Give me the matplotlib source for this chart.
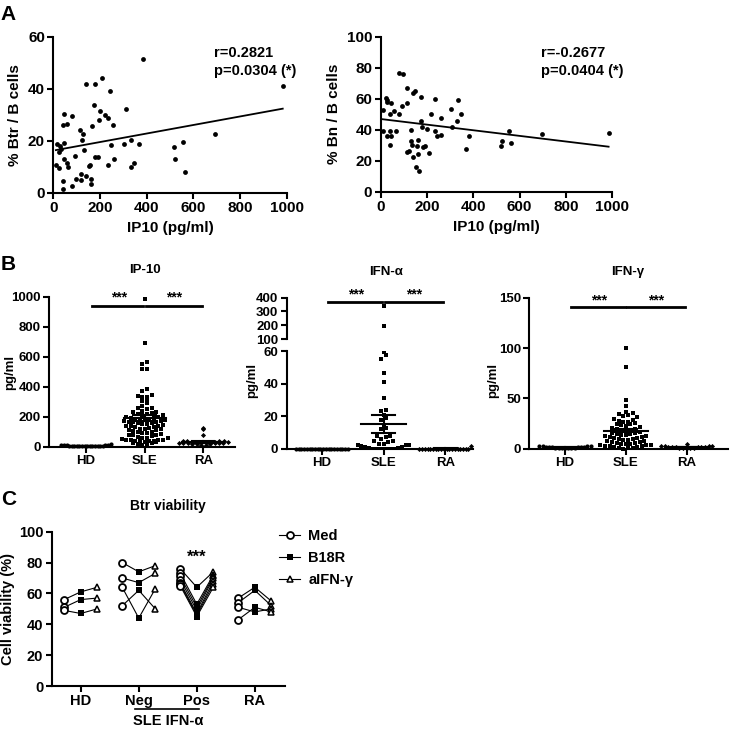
import numpy as np
import matplotlib
matplotlib.use("Agg")
import matplotlib.pyplot as plt
from matplotlib.lines import Line2D

# ---------------- data ----------------
# panel A, left: IP10 (pg/ml) vs % Btr / B cells
btr_ip10 = [383, 983, 209, 140, 180, 241, 174, 310, 200, 46, 80, 220, 234, 197, 40, 60, 166, 257,
            114, 129, 121, 131, 331, 304, 369, 249, 14, 46, 29, 31, 24, 94, 46, 260, 180, 191, 60,
            156, 153, 234, 64, 11, 26, 333, 347, 40, 97, 117, 140, 120, 163, 163, 80, 40, 517, 554,
            521, 564, 691]
btr_pct = [51.3, 41.2, 44.1, 41.8, 41.8, 39.1, 33.7, 32.3, 31.3, 30.3, 29.6, 29.7, 28.8, 27.8, 26.0,
           26.4, 25.8, 25.9, 24.1, 22.4, 20.3, 16.4, 20.3, 18.7, 18.8, 18.2, 18.8, 19.1, 17.9, 16.8,
           15.8, 14.1, 12.9, 12.8, 13.6, 13.6, 11.5, 10.8, 10.3, 10.5, 9.7, 10.8, 9.5, 9.7, 11.5,
           4.6, 5.4, 7.2, 6.4, 4.9, 5.4, 3.3, 2.7, 1.3, 17.7, 19.4, 12.9, 8.1, 22.6]
btr_fit = (0.0164, 16.2)  # slope, intercept of drawn regression line
btr_stats = ["r=0.2821", "p=0.0304 (*)"]

# panel A, right: IP10 (pg/ml) vs % Bn / B cells
bn_ip10 = [78, 95, 115, 150, 140, 173, 23, 29, 43, 26, 233, 334, 112, 92, 9, 58, 40, 78, 219, 348,
           302, 259, 173, 331, 178, 199, 308, 12, 40, 66, 129, 233, 29, 43, 245, 259, 383, 552, 129,
           137, 161, 158, 184, 193, 40, 115, 121, 161, 210, 141, 368, 518, 524, 564, 153, 164, 695,
           984]
bn_pct = [76.3, 75.9, 66.7, 64.7, 63.4, 61.3, 60.2, 59.1, 57.4, 58.1, 59.6, 58.9, 57.0, 55.3, 52.5,
          51.8, 50.3, 49.9, 50.1, 50.3, 53.5, 47.7, 45.8, 45.8, 41.7, 40.2, 41.7, 38.9, 38.9, 39.4,
          39.8, 38.9, 35.9, 35.9, 35.9, 36.8, 35.9, 39.1, 32.5, 30.3, 33.3, 29.5, 29.0, 29.5, 29.9,
          25.6, 26.0, 24.3, 24.7, 22.2, 27.3, 29.2, 32.5, 31.6, 16.1, 13.1, 37.2, 37.6]
bn_fit = (-0.01815, 46.9)
bn_stats = ["r=-0.2677", "p=0.0404 (*)"]

# panel B: cytokines in HD, SLE, RA
groups_b = ["HD", "SLE", "RA"]
ip10_hd = [2, 3, 3, 4, 4, 5, 5, 5, 6, 6, 7, 7, 8, 8, 9, 10, 10, 12, 14, 18]
ip10_sle = [983, 693, 564, 554, 521, 517, 383, 369, 347, 340, 333, 331, 310, 304, 290, 270, 260,
            257, 249, 241, 234, 234, 225, 220, 215, 210, 209, 200, 197, 193, 191, 188, 185, 180,
            180, 175, 174, 170, 166, 163, 163, 160, 156, 153, 150, 145, 140, 140, 135, 131, 129,
            125, 121, 120, 117, 114, 110, 105, 100, 97, 94, 90, 85, 80, 80, 75, 70, 64, 60, 60,
            55, 50, 46, 46, 46, 42, 40, 40, 38, 35, 31, 29, 26, 24, 20, 14, 11]
ip10_ra = [125, 115, 75, 40, 38, 36, 35, 34, 33, 32, 31, 30, 30, 29, 28, 27, 26, 25, 24, 22, 20,
           18, 15, 12, 10]
ip10_mean = [7, 190, 32]
ip10_sem = [1, 20, 6]

ifna_hd = [0] * 20
ifna_sle = [340, 195, 59.6, 57.3, 55.3, 46.3, 41.2, 31.1, 23.8, 22.9, 20.5, 19, 17.5, 14, 13, 12,
            8, 7.5, 7, 6, 5, 4.5, 4, 3, 3, 2.5, 2, 2, 1.5, 1, 1, 0.5, 0.5, 0, 0, 0, 0, 0, 0, 0]
ifna_ra = [0] * 19 + [1.5]
ifna_mean = [0, 15, 0.1]
ifna_sem = [0, 5.5, 0.1]

ifng_hd = [0.2, 0.4, 0.5, 0.6, 0.8, 1, 1, 1.2, 1.4, 1.5, 1.6, 1.8, 2, 2.2, 2.5, 2.8, 3]
ifng_sle = [100, 81, 48.5, 42, 36, 35, 34, 33, 32, 31, 30, 29, 28, 27, 27, 26, 25, 25, 24, 23, 22,
            21, 20, 20, 19, 18, 18, 17, 16, 16, 15, 15, 14, 14, 13, 13, 12, 12, 11, 11, 10, 10, 9,
            9, 8, 8, 7, 7, 6, 6, 5, 5, 5, 4, 4, 4, 3, 3, 3, 2, 2, 1, 1, 0.5, 0]
ifng_ra = [0.3, 0.5, 0.8, 1, 1, 1.2, 1.4, 1.5, 1.7, 2, 2, 2.2, 2.5, 2.8, 3, 4.5]
ifng_mean = [1.2, 18, 1.8]
ifng_sem = [0.2, 1.6, 0.3]

# panel C: Btr viability per donor (Med, B18R, aIFN-g)
groups_c = ["HD", "Neg", "Pos", "RA"]
conds = ["Med", "B18R", "aIFN-\u03b3"]
via_hd = [[56, 61, 64], [51, 56, 57], [49, 47, 50]]
via_neg = [[80, 74, 78], [70, 67, 73], [64, 44, 63], [52, 62, 50]]
via_pos = [[76, 64, 74], [73, 53, 72], [71, 51, 71], [69, 49, 70], [67, 47, 68], [66, 46, 66],
           [65, 45, 64]]
via_ra = [[57, 64, 55], [54, 62, 52], [51, 48, 50], [43, 51, 48]]

# ---------------- style ----------------
plt.rcParams["font.family"] = ["Liberation Sans", "DejaVu Sans"]
plt.rcParams["font.weight"] = "bold"
plt.rcParams["axes.linewidth"] = 1.5
plt.rcParams["xtick.major.width"] = 1.5
plt.rcParams["ytick.major.width"] = 1.5
plt.rcParams["xtick.major.size"] = 4
plt.rcParams["ytick.major.size"] = 4

W = 730.0


def box(x0, y0, x1, y1):
    # pixel box (top-left origin) -> figure rect
    return [x0 / W, 1 - y1 / W, (x1 - x0) / W, (y1 - y0) / W]


def clean(ax, fs):
    ax.spines["top"].set_visible(False)
    ax.spines["right"].set_visible(False)
    ax.tick_params(labelsize=fs, pad=2)
    for t in ax.get_xticklabels() + ax.get_yticklabels():
        t.set_fontweight("bold")


def swarm_offsets(vals, y_ppu, x_ppu, bin_px=4.5, step_px=4.6, max_half=0.42):
    vals = np.asarray(vals, float)
    xs = np.zeros(len(vals))
    keys = np.floor(vals * y_ppu / bin_px)
    for k in np.unique(keys):
        idx = np.where(keys == k)[0]
        idx = idx[np.argsort(vals[idx])]
        n = len(idx)
        step = step_px / x_ppu
        if n > 1:
            step = min(step, 2 * max_half / (n - 1))
        pos = (np.arange(n) - (n - 1) / 2) * step
        order = np.argsort(np.abs(pos), kind="stable")
        xs[idx] = pos[order]
    return xs


fig = plt.figure(figsize=(7.3, 7.3), dpi=100)

# ---------------- panel A ----------------
for rect, xs, ys, fit, stats, ylab, ymax, txt_x in [
        (box(53.3, 36.7, 286.7, 192.7), btr_ip10, btr_pct, btr_fit, btr_stats, "% Btr / B cells", 60, 214),
        (box(380.7, 36.7, 612.3, 191.7), bn_ip10, bn_pct, bn_fit, bn_stats, "% Bn / B cells", 100, 541)]:
    ax = fig.add_axes(rect)
    ax.scatter(xs, ys, s=12, color="black", zorder=3, clip_on=False, linewidths=0)
    xf = np.array([min(xs), max(xs)])
    ax.plot(xf, fit[0] * xf + fit[1], color="black", lw=1.3)
    ax.set_xlim(0, 1000)
    ax.set_ylim(0, ymax)
    ax.set_xticks(range(0, 1001, 200))
    ax.set_yticks(range(0, ymax + 1, 20 if ymax == 100 else 20))
    clean(ax, 11)
    ax.set_xlabel("IP10 (pg/ml)", fontsize=11, fontweight="bold", labelpad=4)
    ax.set_ylabel(ylab, fontsize=11, fontweight="bold", labelpad=4)
    fig.text(txt_x / W, 1 - 52.7 / W, stats[0], fontsize=10.5, fontweight="bold", va="center")
    fig.text(txt_x / W, 1 - 70.5 / W, stats[1], fontsize=10.5, fontweight="bold", va="center")

fig.text(8.5 / W, 1 - 14 / W, "A", fontsize=15, fontweight="bold", ha="center", va="center")
fig.text(8.5 / W, 1 - 264.5 / W, "B", fontsize=15, fontweight="bold", ha="center", va="center")
fig.text(8.5 / W, 1 - 499.5 / W, "C", fontsize=15, fontweight="bold", ha="center", va="center")


def cyto_points(ax, data, means, sems, y_ppu, x_ppu, markers, sizes):
    for i, vals in enumerate(data):
        off = swarm_offsets(vals, y_ppu, x_ppu)
        ax.plot(i + off, vals, linestyle="none", marker=markers[i], ms=sizes[i],
                color="black", mew=0, zorder=3, clip_on=False)
        ax.plot([i - 0.36, i + 0.36], [means[i], means[i]], color="black", lw=1.5, zorder=4)
        ax.plot([i, i], [means[i] - sems[i], means[i] + sems[i]], color="black", lw=1.5, zorder=4)
        for v in (means[i] - sems[i], means[i] + sems[i]):
            ax.plot([i - 0.19, i + 0.19], [v, v], color="black", lw=1.5, zorder=4)


def sig_bars(ax, y, ystar):
    for a, b, c in [(0.1, 0.98, 0.56), (1.02, 1.97, 1.5)]:
        ax.plot([a, b], [y, y], color="black", lw=2, clip_on=False, zorder=5)
        ax.text(c, ystar, "***", ha="center", va="center", fontsize=10, fontweight="bold",
                clip_on=False)


markers_b = ["o", "s", "D"]
sizes_b = [3, 3.4, 2.6]

# IP-10
ax = fig.add_axes(box(49.3, 296.7, 235, 446.7))
ax.set_xlim(-0.625, 2.54)
ax.set_ylim(0, 1000)
y_ppu = 150 / 1000
x_ppu = (235 - 49.3) / (2.54 + 0.625)
cyto_points(ax, [ip10_hd, ip10_sle, ip10_ra], ip10_mean, ip10_sem, y_ppu, x_ppu, markers_b, sizes_b)
sig_bars(ax, 940, 995)
ax.set_xticks(range(3))
ax.set_xticklabels(groups_b)
ax.set_yticks(range(0, 1001, 200))
clean(ax, 9.5)
fig.text(145 / W, 1 - 270 / W, "IP-10", fontsize=9.5, fontweight="bold", ha="center", va="center")
fig.text(10 / W, 1 - 372 / W, "pg/ml", fontsize=9.5, fontweight="bold", rotation=90,
         ha="center", va="center")

# IFN-alpha with broken axis
lo = fig.add_axes(box(286.7, 351, 473, 448.7))
hi = fig.add_axes(box(286.7, 297.7, 473, 339))
for a in (lo, hi):
    a.set_xlim(-0.57, 2.45)
lo.set_ylim(0, 60)
hi.set_ylim(100, 400)
y_ppu = 97.7 / 60
x_ppu = (473 - 286.7) / (2.45 + 0.57)
for a in (lo, hi):
    cyto_points(a, [ifna_hd, ifna_sle, ifna_ra], ifna_mean, ifna_sem, y_ppu, x_ppu, markers_b, sizes_b)
for coll in hi.lines:
    coll.set_clip_on(True)
for coll in lo.lines:
    if max(coll.get_ydata()) > 60:
        coll.set_clip_on(True)
sig_bars(hi, 368, 425)
lo.set_xticks(range(3))
lo.set_xticklabels(groups_b)
lo.set_yticks([0, 20, 40, 60])
hi.set_yticks([100, 200, 300, 400])
hi.set_xticks([])
hi.spines["bottom"].set_visible(False)
clean(lo, 9.5)
clean(hi, 9.5)
fig.text(386 / W, 1 - 271.7 / W, "IFN-\u03b1", fontsize=9.5, fontweight="bold", ha="center", va="center")
fig.text(252 / W, 1 - 380 / W, "pg/ml", fontsize=9.5, fontweight="bold", rotation=90,
         ha="center", va="center")

# IFN-gamma
ax = fig.add_axes(box(529.3, 297.7, 728, 448.7))
ax.set_xlim(-0.586, 2.68)
ax.set_ylim(0, 150)
y_ppu = 151 / 150
x_ppu = (728 - 529.3) / (2.68 + 0.586)
cyto_points(ax, [ifng_hd, ifng_sle, ifng_ra], ifng_mean, ifng_sem, y_ppu, x_ppu, markers_b, sizes_b)
sig_bars(ax, 140.4, 147)
ax.set_xticks(range(3))
ax.set_xticklabels(groups_b)
ax.set_yticks([0, 50, 100, 150])
clean(ax, 9.5)
fig.text(628 / W, 1 - 271.7 / W, "IFN-\u03b3", fontsize=9.5, fontweight="bold", ha="center", va="center")
fig.text(493 / W, 1 - 380 / W, "pg/ml", fontsize=9.5, fontweight="bold", rotation=90,
         ha="center", va="center")

# ---------------- panel C ----------------
ax = fig.add_axes(box(51.7, 531.7, 285, 686))
offs = [-0.285, 0, 0.285]
mk = [dict(marker="o", ms=5, mfc="white", mec="black", mew=1.3),
      dict(marker="s", ms=5, mfc="black", mec="black", mew=0),
      dict(marker="^", ms=4.5, mfc="white", mec="black", mew=1.1)]
for g, donors in enumerate([via_hd, via_neg, via_pos, via_ra]):
    for d in donors:
        ax.plot([g + o for o in offs], d, color="black", lw=0.8, zorder=2)
        for k in range(3):
            ax.plot(g + offs[k], d[k], linestyle="none", zorder=3 + k, **mk[k])
ax.text(2, 83.5, "***", ha="center", va="center", fontsize=12, fontweight="bold")
ax.set_xlim(-0.5, 3.52)
ax.set_ylim(0, 100)
ax.set_xticks(range(4))
ax.set_xticklabels(groups_c)
ax.set_yticks(range(0, 101, 20))
clean(ax, 10.5)
ax.set_ylabel("Cell viability (%)", fontsize=10.5, fontweight="bold", labelpad=3)
trans = ax.get_xaxis_transform()
ax.plot([0.94, 2.03], [-0.151, -0.151], color="black", lw=1.2, transform=trans, clip_on=False)
ax.text(1.5, -0.227, "SLE IFN-\u03b1", transform=trans, ha="center", va="center",
        fontsize=10.5, fontweight="bold")
fig.text(168 / W, 1 - 506 / W, "Btr viability", fontsize=10, fontweight="bold",
         ha="center", va="center")

handles = [Line2D([0], [0], color="black", lw=0.8, **mk[k]) for k in range(3)]
fig.legend(handles, conds, loc="upper left", bbox_to_anchor=(272 / W, 1 - 522 / W),
           frameon=False, fontsize=10.5, borderpad=0, handlelength=1.4, handletextpad=0.6,
           labelspacing=0.55, prop={"weight": "bold", "size": 10.5})

fig.savefig("out.png", dpi=100)
